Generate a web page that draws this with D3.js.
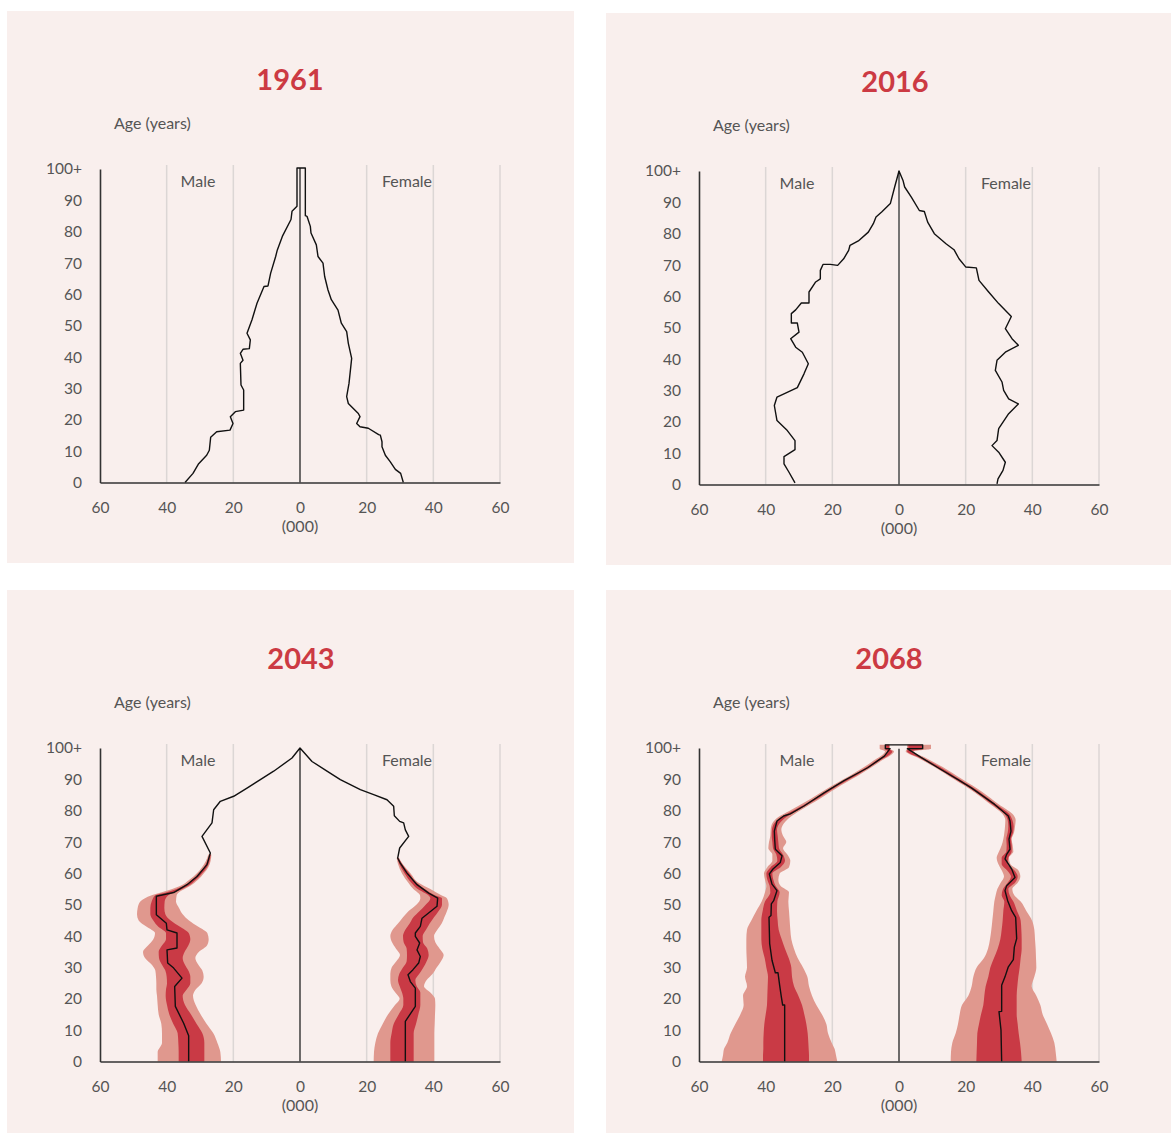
<!DOCTYPE html>
<html>
<head>
<meta charset="utf-8">
<script src="https://cdn.jsdelivr.net/npm/d3@7"></script>
<style>
  body { margin: 0; background: #fff; }
  text { font-family: Lato, "Open Sans", sans-serif; }
</style>
</head>
<body>
<svg width="1171" height="1133"></svg>
<script>
// age ticks and value ticks (thousands)
var ageTicks = [0, 10, 20, 30, 40, 50, 60, 70, 80, 90, 100];
var valueTicks = [-60, -40, -20, 0, 20, 40, 60];
var titles = ["1961", "2016", "2043", "2068"];

// [age, thousands]
var male1961 = [[0,34.5],[2.9,32.1],[6,30.4],[8.7,28],[10.3,27.2],[14.4,26.8],[16.2,25],[16.7,21],[18.8,20.1],[21,20.9],[22.6,19.4],[23.1,16.9],[29.5,16.9],[31.1,17.7],[38,17.9],[39,17.1],[41.2,17.9],[42.5,17.1],[42.7,15.2],[45.5,14.9],[47.6,15.9],[51.9,14.4],[57.2,12.9],[62.5,10.8],[62.7,9.6],[66.8,8.8],[72.1,7.3],[74.2,6.8],[78.5,5.3],[83.9,2.7],[86.5,2.4],[88.1,0.9],[100.3,0.9]];
var female1961 = [[0,31],[2.9,30.2],[4.2,28.6],[6.6,27.1],[8.7,25.6],[11.4,24.6],[13,24.6],[15.1,24.1],[15.3,23.6],[17.3,20.5],[17.8,18],[18.8,17],[21,18],[22,17.5],[25.2,14.5],[27.4,14],[31.6,14.7],[39.6,15.5],[44.4,14.5],[48.1,14],[50.8,12.4],[55,11.4],[58.3,9.4],[61.4,8.4],[65.7,7.4],[70,6.9],[72.1,5.4],[75.8,4.9],[79.6,3.3],[81.7,3.1],[84.9,2.1],[85.1,1.6],[100.3,1.6]];

var male2016 = [[0.5,31.2],[3.9,33],[6.6,34.5],[8.9,34.5],[11.1,31.2],[14,31.2],[17.2,33.5],[20.4,36.6],[25.2,37.4],[27.9,36.6],[30.9,30.5],[35.3,28.5],[38.5,27.2],[42.2,29],[43.8,31],[46.5,32.5],[48.6,30],[51.5,30.5],[51.5,32.3],[54.5,32.3],[55.7,31],[57.9,29.3],[57.9,27],[61.4,27],[64.6,25],[65.6,23.6],[68.3,23.6],[70.2,22.8],[70.2,20.6],[69.9,18.4],[72,16.6],[74.7,15.1],[76.3,14.7],[77.7,12.2],[80.5,9.2],[83.2,7.7],[85.3,6.9],[86.9,5.2],[89.6,2.6],[94.9,1.3],[100,0]];
var female2016 = [[0.2,29.4],[1.8,29.7],[4.5,31.2],[7.1,31.9],[10.3,29.9],[12.4,27.9],[14,29.4],[17.8,29.9],[22.6,32.9],[25.7,35.8],[27.3,32.9],[30,31.4],[32.7,30.9],[36.4,28.9],[39.6,29.4],[42.2,31.9],[44.4,35.8],[46.5,33.9],[49.7,31.9],[53.6,33.7],[57.7,29.9],[61.4,26.9],[65.1,24],[69.1,23.2],[69.4,20],[72,18],[74.9,16.5],[76.8,14.1],[80,10.6],[83.7,8.6],[87.1,7.6],[87.4,6.1],[91.7,3.7],[94.9,1.7],[97,1.2],[100,0]];

var male2043 = [[0,33.4],[8.2,33.4],[12.2,34.9],[17.6,37.4],[23.9,37.6],[26.6,35.4],[29.8,37.9],[31.4,39.7],[35.6,39.9],[36.2,36.9],[41,36.9],[42,39.9],[44.1,40.1],[46.8,43.1],[52.7,43.1],[53.9,37.9],[56.4,33.9],[59,30.9],[62.8,27.9],[66.5,26.9],[71.8,29.4],[76.1,26.4],[80.3,25.9],[83,23.9],[84.6,19.9],[87.2,15.9],[89.9,11.9],[92.6,7.9],[96.8,2.4],[100,0]];
var female2043 = [[0,31.6],[12.8,31.6],[14.4,32.6],[17.6,34.6],[23.4,34.6],[25.5,33.1],[27.7,32.4],[29.3,33.9],[31.4,35.6],[33.5,36.1],[35.6,35.1],[37.8,35.9],[39.9,34.6],[41,34.6],[43.1,36.1],[45.7,36.6],[49.5,41.1],[52.1,41.3],[53.7,38.6],[56.4,35.1],[60.1,32.1],[63.3,30.1],[64.9,29.3],[68.1,29.9],[71.8,32.6],[73.9,31.6],[76.1,31.1],[76.6,29.9],[78.4,28.3],[81.4,28.1],[83.5,26.1],[85.1,22.1],[86.7,18.1],[89.9,12.1],[92.6,8.1],[95.7,3.6],[100,0]];

var male2068 = [[0,34.3],[18,34.3],[18,34.9],[20.6,35.3],[24.3,35.8],[28.3,36.3],[28.3,37.1],[32.3,38.1],[37.6,38.8],[46,39],[46.6,38.4],[50.3,38.3],[51.3,37.6],[54.5,36.6],[56.6,38.1],[59.8,38.9],[61.4,37.8],[63.5,35.6],[65.6,35.1],[66.7,36.1],[67.7,37.1],[70.9,37.3],[73.5,37.4],[76.7,36.6],[78.3,34.6],[79,32.6],[81.5,28.5],[85.7,22.5],[89.6,16.5],[93.7,9.4],[97.4,4.4],[99.8,2.7],[99.8,4.1],[101,4.1]];
var female2068 = [[0,30.8],[10,30.6],[15.9,30],[16,30.8],[24.3,30.8],[27,31.8],[30.2,32.8],[32.5,34.3],[36.5,34.6],[39.2,35.3],[46,35],[48.1,33.8],[51.3,32.6],[54.5,31.8],[56.1,32.3],[58.7,34.8],[61.4,33.8],[64.6,31.8],[66.1,32.3],[67.7,33.3],[70.9,33],[73.5,33.6],[76.7,33.3],[78.3,32.8],[82,28.7],[87.3,21.7],[89.9,17.7],[93.7,11.7],[97,6.6],[99.8,2.5],[99.8,7.1],[101,7.1]];

// projection ranges: [age, lightInner, darkInner, darkOuter, lightOuter]
var maleBand2043 = [[0,23.7,28.7,36.4,42.7],[3,23.9,28.7,36.4,42.7],[6,24.8,28.7,36.5,41.4],[9,26,29.3,36.7,41.4],[12,28,31,38,41.6],[15,29.8,32.7,39.2,42.4],[18,31.3,34.5,39.9,42.7],[21,32.1,35.2,40.3,42.9],[23,31.3,34,40.2,43.1],[25,29.5,32.9,39.9,43.1],[27,28.9,32.9,40,43.2],[29,29.3,33.5,40.4,43.4],[31,30.6,34.6,41.5,44.6],[33,31.4,35.2,42.3,46.5],[35,30.3,34.6,42.4,47.1],[37,27.9,33.5,41.4,45.6],[39,27.4,32.9,40.2,44],[41,27.8,33.4,40.2,43.5],[43,30.5,36,42.5,46],[45,33.3,38.8,44,48.4],[47,35.2,40.4,44.9,48.9],[49,36.3,40.7,44.9,48.7],[51,37.2,40.6,44.5,47.9],[53,37,39.5,43.4,44.5],[54,36.3,37.5,40,41.5],[56,33,33.6,35,36],[58,30.6,31.2,32.4,33.2],[60,28.9,29.4,30.4,31],[62,27.5,27.9,28.8,29.4],[64,26.8,27.1,27.8,28.2],[66,26.6,26.8,27.2,27.5]];
var femaleBand2043 = [[0,22.1,27.1,34.1,40.3],[3,22.2,27.1,34.1,40.3],[6,22.6,27.1,34.1,40.3],[9,23.4,27.5,34.1,40.3],[12,24.8,28.1,34.8,40.4],[15,26.4,29.6,35.5,40.5],[18,28.5,31,36.1,40.6],[20,29.9,31,36.1,40.5],[22,28.6,30.6,36.1,39.1],[24,27.4,29.9,35,37.2],[26,27.1,29.4,34.6,38],[28,27.1,29.8,35.8,39.8],[30,27.5,30.9,37,41],[32,28.9,32,38,42.3],[34,30,32.1,38.6,43.1],[36,28.8,32,38.2,41.9],[38,27.6,31.1,36.9,40.6],[40,27.1,30.9,36.8,40.2],[42,27.8,31.6,37.8,41.2],[44,29.4,32.9,38.9,42.5],[46,30.9,34,40.2,43.3],[48,32.6,35.9,41.6,44.1],[50,34.9,37.7,42.6,44.6],[52,36.1,39.1,42.6,44.1],[53,36,38.5,40.5,42.4],[55,34,35.3,37.4,39.1],[57,32.5,33.4,35,35.6],[60,30.6,31.4,32.8,33.2],[63,29.4,29.8,30.6,30.8],[65,29,29.2,29.5,29.7]];
var maleBand2068 = [[0,18.5,27,40.8,53.2],[2,18.9,27,40.8,52.8],[4,19.3,27.1,40.7,52.5],[6,20.2,27.2,40.7,51.5],[9,21.3,27.4,40.6,50.5],[12,21.8,27.8,40.4,49.1],[15,23.1,28.4,40,47.6],[18,24.8,29.1,39.6,46.6],[21,26.1,30.2,39.5,46.8],[24,27,31.5,39.4,45.6],[27,27.5,32.1,39.3,46.2],[30,28.8,32.3,39.8,45.6],[33,30.4,33.1,40.3,45.7],[36,31.5,34.2,41,45.8],[39,32.3,35.2,41.3,45.8],[42,32.6,36.1,41.3,45.6],[45,32.8,36.4,41.3,44.3],[48,33,36.6,40.9,42.8],[51,33.2,36.5,40.2,41.2],[54,33,35.8,38.6,40.2],[56,35.5,37,38.8,39.8],[58,36.2,37.7,39.5,40.2],[60,35.8,38,39.8,40.5],[62,33,35.5,38.5,39.5],[64,32.6,34.2,36.5,38],[66,33.5,34.8,36.8,38],[68,34.8,36,37.8,39.2],[70,33.8,36.2,38,39],[72,34.8,36.4,38.2,38.6],[74,35.3,36.6,38.1,38.5],[76,34.5,35.8,37.4,38],[78,32.6,33.8,35.4,36.2],[80,29.8,30.6,31.8,32.8],[84,23.5,24.2,25.2,26.2],[88,17.5,18.2,19.2,20],[92,11,11.6,12.6,13.4],[96,5.2,5.8,6.8,7.6],[99,1.5,2,3.4,4.2],[99.8,2.7,3,4.2,5.8],[101,2.7,3,4.2,5.8]];
var femaleBand2068 = [[0,15.5,23.2,36.8,47.3],[3,15.6,23.3,36.6,47],[6,16,23.4,36.3,46.6],[9,17,23.5,35.9,45.6],[12,17.7,24,35.6,44.4],[15,18.2,24.6,35.3,43.1],[18,18.9,25.3,35.3,42.4],[21,20.8,25.6,35.3,41.2],[24,21.8,26,35.5,39.8],[27,22.3,26.8,35.8,40.6],[30,23.3,27.4,36.2,41.2],[33,25.5,28.5,36.5,41.1],[36,26.7,29.6,36.8,41],[39,27.3,30.4,36.8,40.8],[42,27.7,30.8,36.7,40.6],[45,28,31.1,36.5,39.9],[48,28.3,31.3,35.4,38.2],[51,28.6,31.6,34.3,36.5],[53,29,30.8,33.2,34.6],[55,29.5,31.2,32.8,34],[57,30.5,32.6,34.8,35.6],[59,31.5,33.6,35.6,36.4],[61,30.8,32.4,34.6,35.8],[63,29.8,30.8,32.6,33.4],[65,29.3,30.8,32.8,33],[67,30,32.2,33.8,34.3],[69,30.8,32.3,33.8,34.1],[71,31.3,32.2,33.6,33.8],[73,31.6,32.6,34.2,34.5],[75,31.8,32.8,34.4,34.8],[77,31.9,32.6,34,35],[79,31,31.6,33,34],[82,27.5,28,29.2,30],[86,22.5,23,24.2,25],[90,16.5,17,18.2,19],[94,10.5,11,12.2,13],[97,5.5,6,7,7.8],[99,2,2.4,3.6,4.5],[99.8,2.4,2.8,7.2,9.6],[101,2.4,2.8,7.2,9.6]];

var svg = d3.select("svg");

// panel boxes and the plot frame inside each one
var panels = [
  {title: titles[0], x: 7, y: 11, w: 567, h: 552, titleX: 283, male: male1961, female: female1961, top: 100.3},
  {title: titles[1], x: 606, y: 13, w: 565, h: 552, titleX: 289, male: male2016, female: female2016, top: 100, centerColor: "#666"},
  {title: titles[2], x: 7, y: 590, w: 567, h: 543, titleX: 294, male: male2043, female: female2043, top: 100, bandM: maleBand2043, bandF: femaleBand2043},
  {title: titles[3], x: 606, y: 590, w: 565, h: 543, titleX: 283, male: male2068, female: female2068, top: 99.8, bandM: maleBand2068, bandF: femaleBand2068}
];

var x = d3.scaleLinear().domain([-60, 60]).range([93, 493]);
var y = d3.scaleLinear().domain([0, 100]).range([471.5, 158]);

var lightRed = "#e0988e", darkRed = "#c93a45", textCol = "#555";

panels.forEach(function(p) {
  var g = svg.append("g").attr("transform", "translate(" + p.x + "," + p.y + ")");

  g.append("rect").attr("width", p.w).attr("height", p.h).attr("fill", "#f9efed");

  g.append("text")
    .attr("x", p.titleX).attr("y", 79)
    .attr("text-anchor", "middle")
    .attr("font-size", 29).attr("font-weight", "bold")
    .attr("fill", "#cc3a43")
    .text(p.title);

  g.append("text")
    .attr("x", 107).attr("y", 118)
    .attr("font-size", 16).attr("fill", textCol)
    .text("Age (years)");

  // grid
  g.append("g").selectAll("line")
    .data([-40, -20, 20, 40, 60])
    .enter().append("line")
    .attr("x1", function(d) { return x(d); })
    .attr("x2", function(d) { return x(d); })
    .attr("y1", y(100) - 4).attr("y2", y(0))
    .attr("stroke", "#dcd6d5").attr("stroke-width", 1.5);

  g.append("text").attr("x", 191).attr("y", 176)
    .attr("text-anchor", "middle").attr("font-size", 16).attr("fill", textCol).text("Male");
  g.append("text").attr("x", 400).attr("y", 176)
    .attr("text-anchor", "middle").attr("font-size", 16).attr("fill", textCol).text("Female");

  // projection bands
  if (p.bandM) {
    [[p.bandM, -1], [p.bandF, 1]].forEach(function(b) {
      var s = b[1];
      var light = d3.area()
        .y(function(d) { return y(d[0]); })
        .x0(function(d) { return x(s * d[1]); })
        .x1(function(d) { return x(s * d[4]); })
        .curve(d3.curveMonotoneY);
      var dark = d3.area()
        .y(function(d) { return y(d[0]); })
        .x0(function(d) { return x(s * d[2]); })
        .x1(function(d) { return x(s * d[3]); })
        .curve(d3.curveMonotoneY);
      g.append("path").attr("d", light(b[0])).attr("fill", lightRed);
      g.append("path").attr("d", dark(b[0])).attr("fill", darkRed);
    });
  }

  // center line
  g.append("line")
    .attr("x1", x(0)).attr("x2", x(0))
    .attr("y1", y(0)).attr("y2", y(p.top))
    .attr("stroke", p.centerColor || "#222").attr("stroke-width", p.centerColor ? 1.8 : 1.3);

  // population outline: male side going up, female side coming down
  var pts = p.male.map(function(d) { return [-d[1], d[0]]; })
    .concat(p.female.slice().reverse().map(function(d) { return [d[1], d[0]]; }));
  var line = d3.line()
    .x(function(d) { return x(d[0]); })
    .y(function(d) { return y(d[1]); });
  g.append("path").attr("d", line(pts))
    .attr("fill", "none").attr("stroke", "#111").attr("stroke-width", 1.4)
    .attr("stroke-linejoin", "round");

  // axes
  var ya = g.append("g").attr("transform", "translate(" + x(-60) + ",0)")
    .call(d3.axisLeft(y).tickValues(ageTicks).tickSize(0).tickPadding(18)
      .tickFormat(function(d) { return d === 100 ? "100+" : d; }));
  var xa = g.append("g").attr("transform", "translate(0," + y(0) + ")")
    .call(d3.axisBottom(x).tickValues(valueTicks).tickSize(0).tickPadding(19)
      .tickFormat(function(d) { return Math.abs(d); }));
  [ya, xa].forEach(function(a) {
    a.select(".domain").attr("stroke", "#333").attr("stroke-width", 1.6);
    a.selectAll("text").attr("font-size", 15.5).attr("fill", textCol)
      .attr("font-family", "Lato, 'Open Sans', sans-serif");
  });

  g.append("text").attr("x", x(0)).attr("y", 521)
    .attr("text-anchor", "middle").attr("font-size", 16).attr("fill", textCol).text("(000)");
});
</script>
</body>
</html>
